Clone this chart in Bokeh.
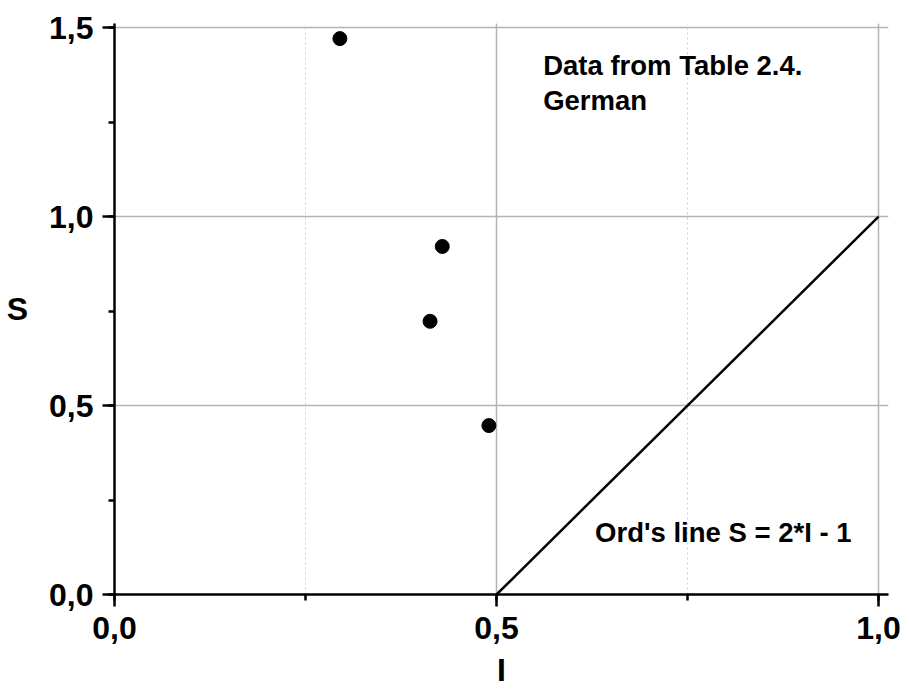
from bokeh.plotting import figure
from bokeh.models import (Range1d, SingleIntervalTicker, CustomJSTickFormatter,
                          Label)
from bokeh.embed import file_html
from bokeh.resources import INLINE

# German, Table 2.4: I and S values
I_vals = [0.295, 0.429, 0.413, 0.490]
S_vals = [1.471, 0.921, 0.723, 0.447]

# Ord's line S = 2*I - 1
ord_I = [0.5, 1.0]
ord_S = [0.0, 1.0]

FONT = "Liberation Sans"

p = figure(width=909, height=691, output_backend="svg", toolbar_location=None,
           x_range=Range1d(0, 1.013), y_range=Range1d(0, 1.511),
           min_border_left=114, min_border_right=21,
           min_border_top=23, min_border_bottom=97)
p.outline_line_color = None
p.background_fill_color = "white"
p.border_fill_color = "white"

fmt = CustomJSTickFormatter(code="return tick.toFixed(1).replace('.', ',');")

for ax, lab in ((p.xaxis[0], "I"), (p.yaxis[0], "S")):
    ax.ticker = SingleIntervalTicker(interval=0.5, num_minor_ticks=2)
    ax.formatter = fmt
    ax.axis_label = lab
    ax.axis_label_text_font = FONT
    ax.axis_label_text_font_style = "bold"
    ax.axis_label_text_font_size = "32px"
    ax.axis_label_text_color = "black"
    ax.major_label_text_font = FONT
    ax.major_label_text_font_style = "bold"
    ax.major_label_text_font_size = "32px"
    ax.major_label_text_color = "black"
    ax.axis_line_width = 2.5
    ax.axis_line_color = "black"
    ax.major_tick_line_width = 2.5
    ax.major_tick_line_color = "black"
    ax.minor_tick_line_width = 2.5
    ax.minor_tick_line_color = "black"
    ax.major_tick_out = 12
    ax.major_tick_in = 0
    ax.minor_tick_out = 6
    ax.minor_tick_in = 0

p.xaxis.major_label_standoff = 10
p.yaxis.major_label_standoff = 9
p.xaxis.axis_label_standoff = 10
p.yaxis.axis_label_standoff = 18
p.yaxis.axis_label_orientation = "horizontal"

p.xgrid.ticker = SingleIntervalTicker(interval=0.5, num_minor_ticks=2)
p.ygrid.ticker = SingleIntervalTicker(interval=0.5, num_minor_ticks=2)
for g in (p.xgrid[0], p.ygrid[0]):
    g.grid_line_color = "#b3b3b3"
    g.grid_line_width = 1.5
p.xgrid.minor_grid_line_color = "#cfcfcf"
p.xgrid.minor_grid_line_dash = "2 3"
p.xgrid.minor_grid_line_width = 1
p.ygrid.minor_grid_line_color = None

p.line(ord_I, ord_S, line_color="black", line_width=2.5)
p.scatter(I_vals, S_vals, size=14, fill_color="black", line_color="black")

for txt, x, y in (("Data from Table 2.4.", 0.561, 1.40),
                  ("German", 0.561, 1.307),
                  ("Ord's line S = 2*I - 1", 0.629, 0.164)):
    p.add_layout(Label(x=x, y=y, text=txt, text_font=FONT,
                       text_font_style="bold", text_font_size="27.5px",
                       text_color="black", text_baseline="alphabetic"))

open("out.html", "w").write(file_html(p, INLINE))
